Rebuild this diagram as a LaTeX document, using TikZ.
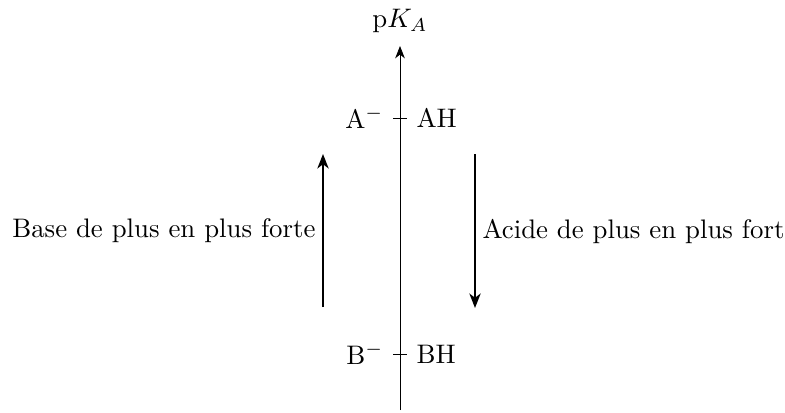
\documentclass[tikz,border=0pt]{standalone}
\usetikzlibrary{arrows.meta}
\begin{document}
\begin{tikzpicture}[x=0.3731pt,y=-0.3731pt,
  axisline/.style={line width=0.3pt,-{Stealth[length=4.6pt,width=3.6pt,inset=1.4pt]}},
  tick/.style={line width=0.3pt},
  sidearrow/.style={-{Stealth[length=5.4pt,width=4.2pt,inset=1.6pt]},thick},
  lbl/.style={inner sep=0pt}]
\useasboundingbox (0,0) rectangle (785,412);
\coordinate (abot) at (400,410);
\coordinate (atop) at (400,46);
\draw[axisline] (abot) -- (atop);
\node[lbl,anchor=base] (pka) at (400,27) {p$K_A$};
\coordinate (t1l) at (393,118); \coordinate (t1r) at (407,118);
\coordinate (t2l) at (393,354); \coordinate (t2r) at (407,354);
\draw[tick] (t1l) -- (t1r);
\draw[tick] (t2l) -- (t2r);
\node[lbl,anchor=east] (am) at (384,118) {A$^-$};
\node[lbl,anchor=west] (ah) at (416,118) {AH};
\node[lbl,anchor=east] (bm) at (384,354) {B$^-$};
\node[lbl,anchor=west] (bh) at (416,354) {BH};
\coordinate (l1) at (323,307); \coordinate (l2) at (323,154);
\coordinate (r1) at (475,154); \coordinate (r2) at (475,308);
\draw[sidearrow] (l1) -- (l2);
\draw[sidearrow] (r1) -- (r2);
\node[lbl,anchor=east] (base) at (316,231) {Base de plus en plus forte};
\node[lbl,anchor=west] (acide) at (482,231) {Acide de plus en plus fort};
\end{tikzpicture}
\end{document}
